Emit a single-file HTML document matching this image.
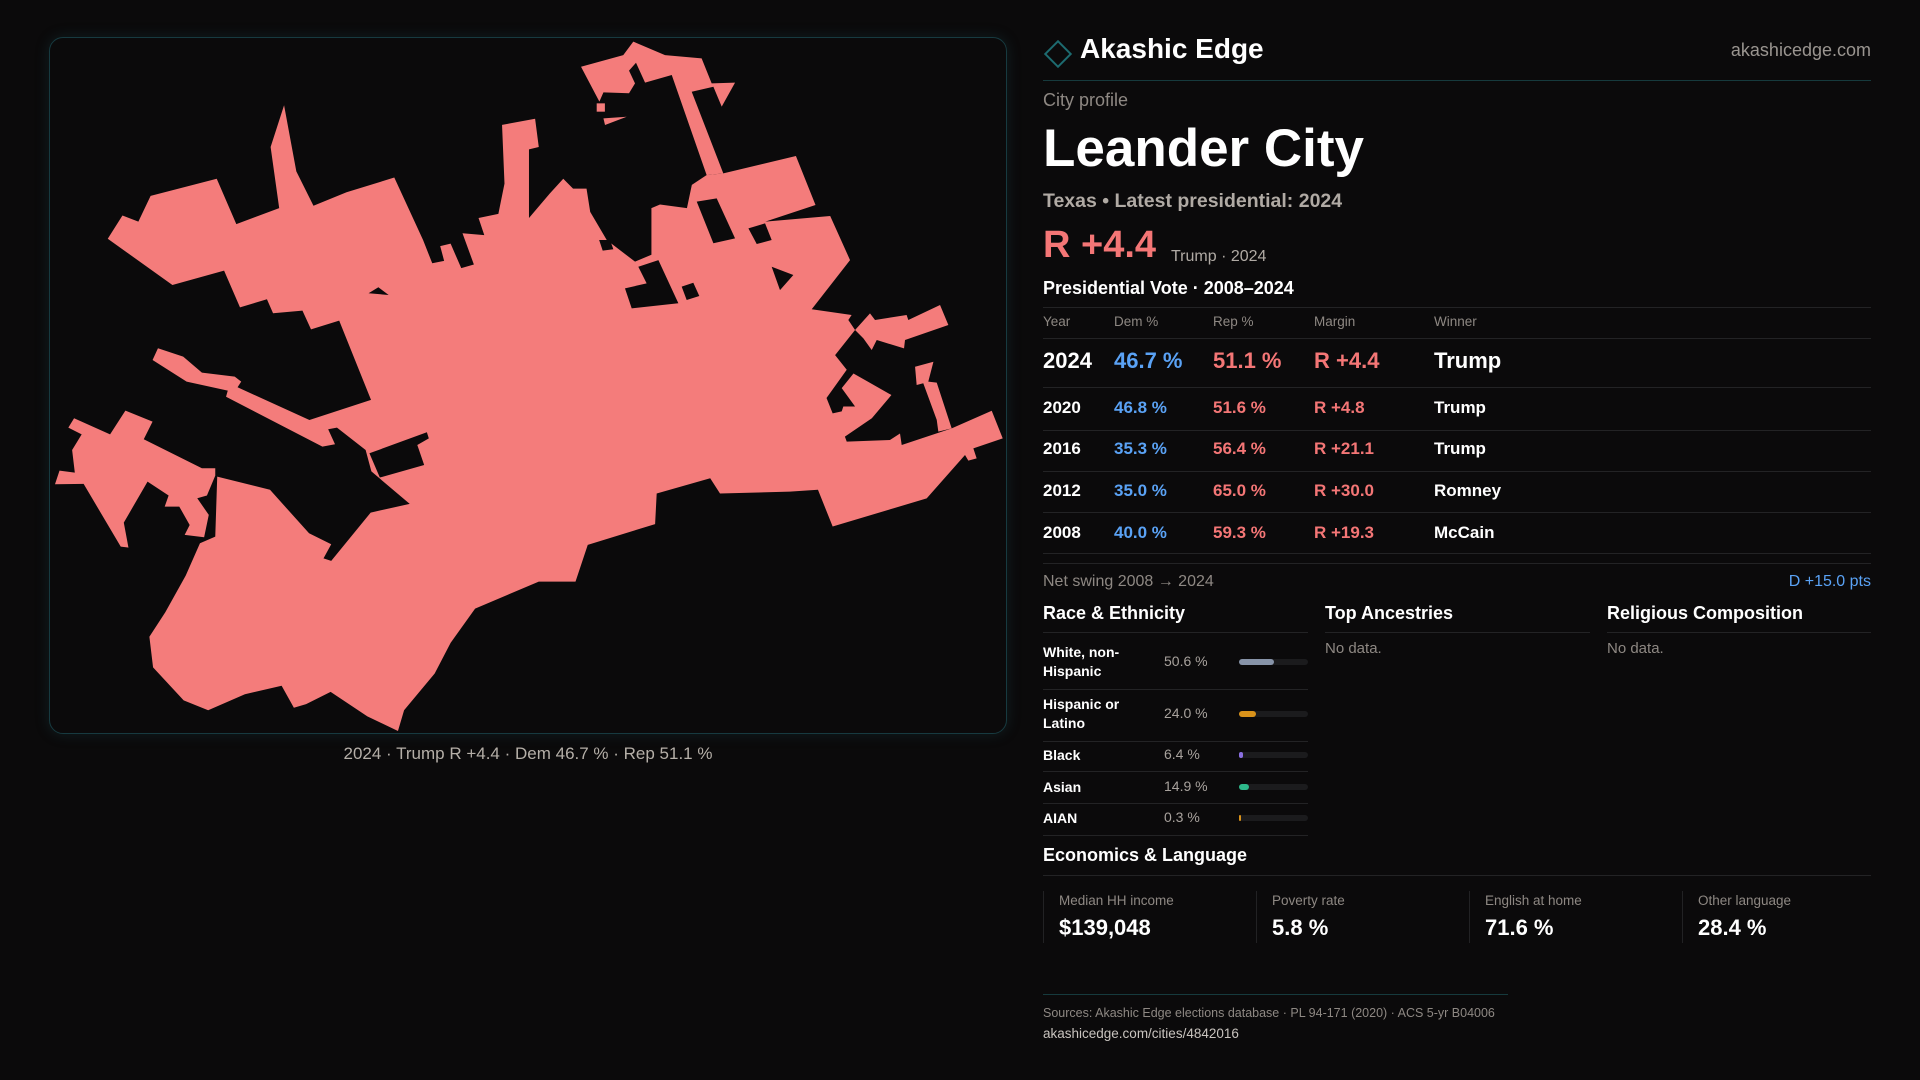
<!DOCTYPE html>
<html><head><meta charset="utf-8">
<style>
*{margin:0;padding:0;box-sizing:border-box}
body{width:1920px;height:1080px;background:#0b0a0b;font-family:"Liberation Sans",sans-serif;color:#fff;position:relative;overflow:hidden}
.a{position:absolute;white-space:nowrap}
.g{color:#8e8883}
.hl{position:absolute;height:1px;background:#232325}
.blue{color:#5aa2f5}.red{color:#f47676}
</style></head><body>
<div class="a" style="left:49px;top:37px;width:958px;height:697px;border:1px solid #173a40;border-radius:14px;box-shadow:0 0 14px rgba(30,90,100,.25)"></div>
<svg class="a" style="left:0;top:0" width="1920" height="1080" viewBox="0 0 1568 882">
<g fill="#f47c7b">
<polygon points="88,195 100,176 113,181 123,160 177,146 193,183 228,170 221,120 232,86 242,140 256,168 283,157 322,145 345.5,196 353,215 362.7,213 359.5,201 368,199 376.7,219 387,216 377.7,190.5 395.5,192 390.8,178 407,174.7 412,150 410,102 437,97 440,120 432,122 432,178 449,158 460,146 468,154 479,154 482,173 495.5,196 518.6,213.7 532,208 532,170 539,167 561,170 565,151 577,143 590.7,141.6 650,127.4 666,167.4 625,181 678,176.4 694.2,212.4 662.9,252.6 695.5,257.3 692.8,261.3 698.3,269.5 682,290 691.5,302 675,325 680,337.6 687.4,336 688.7,332 698.3,332 687.4,317 697,305 728,322.6 712,341.6 690,356.6 691.5,360.7 726.8,359.3 735,354 736.4,363.4 777.2,349.8 809.9,335.4 818.9,358 794.9,366.2 797.6,374.3 790.8,376.2 788.1,371.6 756.8,407 680,430 668,400 645,401.5 588,403 580,390.6 536.3,403 535,428 480,445 470,475 440,475 388,497 368,525 355,550 330,580 325,597 300,585 270,565 250,575 240,578 230,560 200,567 170,580 150,572 125,545 122,520 135,500 151.7,470 163.3,443.7 175.8,438.2 177.4,389.2 220.5,400 252.4,435.5 270.5,444.5 264.2,456 270.5,458 302.7,418.6 334.6,411.5 303.3,385 298.6,367.5 275.2,349.2 268,350.6 273.6,362.8 263.3,364.7 184.6,324 186,319 152.4,311.7 124.6,294 129,284.4 149.6,291.2 164.9,304.3 191.7,307.6 197,311.7 194,316.3 252.7,343 303,326.6 277,261.8 254,269 247,253.7 223,255.8 218,244.4 196,251 183,221 140.8,232.7"/>
<polygon points="175.8,382.4 164.9,382.4 117.4,358.7 124.6,344.3 102.4,335.3 89.9,354.7 60.5,341.6 55.8,349.2 66.7,354.7 58.9,367.5 61.1,386 48.6,384.3 44.9,395.5 68.3,395.2 98.6,446.4 104.9,447.2 101.1,426.8 120.5,393.3 137.7,404.7 134.5,413.7 146.4,413.7 154.9,428.7 150.8,436.8 166.7,438.8 170.5,420.5 161.1,406.9 169,404.7 175.8,388.4"/>
<polygon points="474.5,54.5 509,45 517.2,34 543.1,45 573,47.7 581.2,68.1 600.3,67.5 589.4,87.1 582.6,70.8 564.9,74.9 590.7,141.6 577.1,143 548.6,61.3 526.8,67.5 519.4,51.2 513.7,57.7 518.6,68.1 513.7,76.2 492.8,75.4 489.5,83"/>
<polygon points="487.3,84.4 494,84.4 494,91.2 487.3,91.2"/>
<polygon points="492.8,96.7 511.8,95.3 494.1,102.1"/>
<polygon points="710.5,255.9 714.6,261.3 740.4,257.3 741.8,261.3 767.7,249.1 774.5,265.4 739.1,277.7 738.3,284.5 716,277.7 711.9,285.8 705.1,276.3 698.3,269.5 705,262"/>
<polygon points="747.3,299.5 762.3,295.4 758.1,311.7 765,312.5 777.2,349.8 766.3,352.5 765,342.9 754,313 748.6,314.4"/>
</g>
<g fill="#0b0a0b">
<polygon points="301.7,370.2 348.6,353 350.2,358 340.8,363.4 346.4,379.7 310.2,390"/>
<polygon points="301,239.5 309,234.6 317.4,240.9"/>
<polygon points="569,164.7 585.3,162 600.3,194.7 582.6,198.7"/>
<polygon points="611.2,186.5 624.8,182.4 630.2,196 618,199.3"/>
<polygon points="521.3,217.8 537.7,212.4 554,247.7 515.9,251.8 510.4,235.5 528.1,231.4"/>
<polygon points="556.7,234.1 566.2,230.9 571.1,241.7 560.8,245"/>
<polygon points="630.2,217.8 647.9,224.6 637,236.9"/>
<polygon points="489.3,196 498.2,196 500.9,203.6 492.2,204.7"/>
</g>
</svg>
<div class="a" style="left:0;width:1056px;text-align:center;top:744px;font-size:17px;color:#b5afa8">2024 · Trump R +4.4 · Dem 46.7 % · Rep 51.1 %</div>

<div class="a" style="left:1048px;top:44px;width:20px;height:20px;border:2px solid #1d6b70;transform:rotate(45deg)"></div>
<div class="a" style="left:1080px;top:33px;font-size:28px;font-weight:bold">Akashic Edge</div>
<div class="a g" style="right:49px;top:40px;font-size:18px;color:#9a9590">akashicedge.com</div>
<div class="hl" style="left:1043px;width:828px;top:80px;background:#163a3d"></div>
<div class="a g" style="left:1043px;top:90px;font-size:18px">City profile</div>
<div class="a" style="left:1043px;top:118px;font-size:53px;font-weight:bold">Leander City</div>
<div class="a" style="left:1043px;top:190px;font-size:19.5px;color:#b0aaa4;font-weight:bold">Texas • Latest presidential: 2024</div>
<div class="a red" style="left:1043px;top:224px;font-size:38px;font-weight:bold">R +4.4</div>
<div class="a" style="left:1171px;top:248px;font-size:16px;color:#b0aaa4">Trump · 2024</div>
<div class="a" style="left:1043px;top:278px;font-size:18px;font-weight:bold">Presidential Vote · 2008–2024</div>
<div class="hl" style="left:1043px;width:828px;top:307px"></div>
<div id="tbl"></div>
<div class="a g" style="left:1043px;top:573px;font-size:16px">Net swing 2008 → 2024</div>
<div class="a blue" style="right:49px;top:573px;font-size:16px">D +15.0 pts</div>
<div class="a" style="left:1043px;top:603px;font-size:18px;font-weight:bold">Race &amp; Ethnicity</div>
<div class="a" style="left:1325px;top:603px;font-size:18px;font-weight:bold">Top Ancestries</div>
<div class="a" style="left:1607px;top:603px;font-size:18px;font-weight:bold">Religious Composition</div>
<div class="hl" style="left:1043px;width:265px;top:632px"></div>
<div class="hl" style="left:1325px;width:265px;top:632px"></div>
<div class="hl" style="left:1607px;width:264px;top:632px"></div>
<div class="a g" style="left:1325px;top:640px;font-size:15px">No data.</div>
<div class="a g" style="left:1607px;top:640px;font-size:15px">No data.</div>
<div id="race"></div>
<div class="a" style="left:1043px;top:845px;font-size:18px;font-weight:bold">Economics &amp; Language</div>
<div class="hl" style="left:1043px;width:828px;top:875px"></div>
<div id="stats"></div>
<div class="hl" style="left:1043px;width:465px;top:994px;background:#163a3d"></div>
<div class="a g" style="left:1043px;top:1006px;font-size:12.5px">Sources: Akashic Edge elections database · PL 94-171 (2020) · ACS 5-yr B04006</div>
<div class="a" style="left:1043px;top:1026px;font-size:13.5px;color:#c9c4bf">akashicedge.com/cities/4842016</div>
<script>
const years=["2024","2020","2016","2012","2008"];
const demPct=[46.7,46.8,35.3,35.0,40.0];
const repPct=[51.1,51.6,56.4,65.0,59.3];
const winners=["Trump","Trump","Trump","Romney","McCain"];
const raceLabels=["White, non-<br>Hispanic","Hispanic or<br>Latino","Black","Asian","AIAN"];
const raceVals=[50.6,24.0,6.4,14.9,0.3];
const raceColors=["#8793a8","#d9921a","#8a6fe0","#2db88a","#d9921a"];
const statLabels=["Median HH income","Poverty rate","English at home","Other language"];
const statVals=["$139,048","5.8 %","71.6 %","28.4 %"];
const cols=[1043,1114,1213,1314,1434];
function add(p,html,style,name,inter){const d=document.createElement('div');d.className='a';d.innerHTML=html;d.style.cssText=style;


p.appendChild(d);return d;}
const T=document.getElementById('tbl');
["Year","Dem %","Rep %","Margin","Winner"].forEach((h,i)=>add(T,h,`left:${cols[i]}px;top:314px;font-size:13.5px;color:#8e8883`,'column-header',false));
const rowY=[361,408,449,491,533],lineY=[338,387,430,471,512,553,563];
lineY.forEach(y=>{add(T,'',`left:1043px;width:828px;height:1px;top:${y}px;background:#232325`,'row-divider',false);});
years.forEach((y,i)=>{const fs=i==0?22:17,top=rowY[i]-fs*0.6,w='bold';
const m=(repPct[i]-demPct[i]);const ms=(m>=0?'R +':'D +')+Math.abs(m).toFixed(1);
add(T,y,`left:${cols[0]}px;top:${top}px;font-size:${fs}px;font-weight:${w}`,'year-cell',false);
add(T,demPct[i].toFixed(1)+' %',`left:${cols[1]}px;top:${top}px;font-size:${fs}px;color:#5aa2f5;font-weight:${w}`,'dem-cell',false);
add(T,repPct[i].toFixed(1)+' %',`left:${cols[2]}px;top:${top}px;font-size:${fs}px;color:#f47676;font-weight:${w}`,'rep-cell',false);
add(T,ms,`left:${cols[3]}px;top:${top}px;font-size:${fs}px;color:#f47676;font-weight:${w}`,'margin-cell',false);
add(T,winners[i],`left:${cols[4]}px;top:${top}px;font-size:${fs}px;font-weight:${w}`,'winner-cell',false);});
const R=document.getElementById('race');
const rY=[662,714,755,787,818],rL=[689,741,771,803,835];
raceVals.forEach((v,i)=>{
add(R,raceLabels[i],`left:1043px;top:${rY[i]-(i<2?19:9)}px;font-size:14px;font-weight:bold;line-height:19px`,'race-label',false);
add(R,v.toFixed(1)+' %',`left:1164px;top:${rY[i]-9}px;font-size:14px;color:#a8a29d`,'race-value',false);
add(R,'',`left:1239px;top:${rY[i]-3}px;width:69px;height:6px;border-radius:3px;background:#1b1b1d`,'race-bar-track',false);
add(R,'',`left:1239px;top:${rY[i]-3}px;width:${Math.max(1.5,v/100*69)}px;height:6px;border-radius:3px;background:${raceColors[i]}`,'race-bar',false);
add(R,'',`left:1043px;top:${rL[i]}px;width:265px;height:1px;background:#232325`,'race-divider',false);});
const S=document.getElementById('stats');const sx=[1043,1256,1469,1682];
statLabels.forEach((l,i)=>{add(S,'',`left:${sx[i]}px;top:891px;width:1px;height:52px;background:#222224`,'stat-divider',false);
add(S,l,`left:${sx[i]+16}px;top:893px;font-size:13.5px;color:#8e8883`,'stat-label',false);
add(S,statVals[i],`left:${sx[i]+16}px;top:915px;font-size:22px;font-weight:bold`,'stat-value',false);});
</script>
</body></html>
